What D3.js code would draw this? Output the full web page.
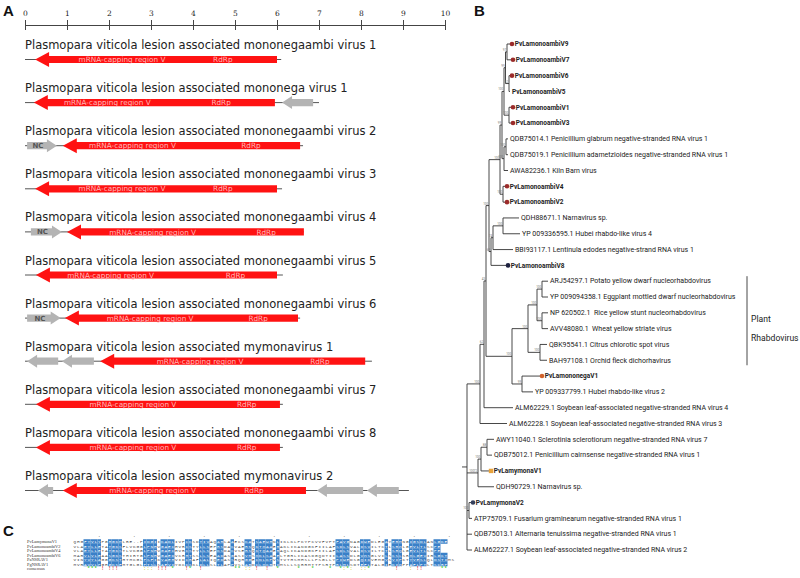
<!DOCTYPE html>
<html><head><meta charset="utf-8">
<script src="https://cdn.jsdelivr.net/npm/d3@7"></script>
<style>body{margin:0;background:#fff;} svg{display:block;}</style>
</head><body>
<svg id="chart" width="800" height="578"></svg>
<script>
// ================= Panel A data =================
const axisTicks = [0,1,2,3,4,5,6,7,8,9,10];
const genomeNames = [
  "Plasmopara viticola lesion associated mononegaambi virus 1",
  "Plasmopara viticola lesion associated mononega virus 1",
  "Plasmopara viticola lesion associated mononegaambi virus 2",
  "Plasmopara viticola lesion associated mononegaambi virus 3",
  "Plasmopara viticola lesion associated mononegaambi virus 4",
  "Plasmopara viticola lesion associated mononegaambi virus 5",
  "Plasmopara viticola lesion associated mononegaambi virus 6",
  "Plasmopara viticola lesion associated mymonavirus 1",
  "Plasmopara viticola lesion associated mononegaambi virus 7",
  "Plasmopara viticola lesion associated mononegaambi virus 8",
  "Plasmopara viticola lesion associated mymonavirus 2"
];
const genomeLength = [6.10, 7.00, 6.62, 6.12, 6.64, 6.14, 6.55, 8.26, 6.14, 6.14, 9.14];
const rdrpStart    = [0.24, 0.21, 0.90, 0.24, 1.00, 0.26, 0.95, 1.79, 0.26, 0.26, 0.90];
const rdrpEnd      = [6.00, 5.95, 6.55, 6.00, 6.64, 6.00, 6.50, 8.10, 6.07, 6.07, 6.69];
const capLabelPos  = [2.31, 1.96, 2.56, 2.31, 3.04, 2.04, 2.98, 4.17, 2.57, 2.57, 3.04];
const rdrpLabelPos = [4.71, 4.67, 5.38, 4.71, 5.74, 5.01, 5.55, 7.02, 5.28, 5.28, 5.45];
// [row, from, to, direction, label]
const grayOrfs = [
  [1, 6.12, 6.86, "left", ""],
  [2, 0.05, 0.76, "right", "NC"],
  [4, 0.14, 0.88, "right", "NC"],
  [6, 0.05, 0.85, "right", "NC"],
  [7, 0.05, 0.79, "left", ""],
  [7, 0.88, 1.64, "left", ""],
  [10, 0.31, 0.67, "left", ""],
  [10, 6.95, 8.05, "left", ""],
  [10, 8.14, 8.90, "left", ""]
];

// ================= Panel B data =================
const leafLabels = [
  "PvLamonoambiV9","PvLamonoambiV7","PvLamonoambiV6","PvLamonoambiV5","PvLamonoambiV1","PvLamonoambiV3",
  "QDB75014.1 Penicillium glabrum negative-stranded RNA virus 1",
  "QDB75019.1 Penicillium adametzioides negative-stranded RNA virus 1",
  "AWA82236.1 Kiln Barn virus",
  "PvLamonoambiV4","PvLamonoambiV2",
  "QDH88671.1 Narnavirus sp.",
  "YP 009336595.1 Hubei rhabdo-like virus 4",
  "BBI93117.1 Lentinula edodes negative-strand RNA virus 1",
  "PvLamonoambiV8",
  "ARJ54297.1 Potato yellow dwarf nucleorhabdovirus",
  "YP 009094358.1 Eggplant mottled dwarf nucleorhabdovirus",
  "NP 620502.1  Rice yellow stunt nucleorhabdovirus",
  "AVV48080.1  Wheat yellow striate virus",
  "QBK95541.1 Citrus chlorotic spot virus",
  "BAH97108.1 Orchid fleck dichorhavirus",
  "PvLamononegaV1",
  "YP 009337799.1 Hubei rhabdo-like virus 2",
  "ALM62229.1 Soybean leaf-associated negative-stranded RNA virus 4",
  "ALM62228.1 Soybean leaf-associated negative-stranded RNA virus 3",
  "AWY11040.1 Sclerotinia sclerotiorum negative-stranded RNA virus 7",
  "QDB75012.1 Penicillium cairnsense negative-stranded RNA virus 1",
  "PvLamymonaV1",
  "QDH90729.1 Narnavirus sp.",
  "PvLamymonaV2",
  "ATP75709.1 Fusarium graminearum negative-stranded RNA virus 1",
  "QDB75013.1 Alternaria tenuissima negative-stranded RNA virus 1",
  "ALM62227.1 Soybean leaf-associated negative-stranded RNA virus 2"
];
// leaf index -> [shape, colour]
const leafMarkers = {
  0:["circle","#9b2b2b"],1:["circle","#9b2b2b"],2:["circle","#9b2b2b"],4:["circle","#9b2b2b"],5:["circle","#9b2b2b"],
  9:["circle","#9b2b2b"],10:["circle","#9b2b2b"],14:["circle","#1d2140"],21:["circle","#d0622c"],
  27:["square","#e8a33c"],29:["circle","#34405e"]
};
// Newick tree (leaf names are indices into leafLabels; internal labels are bootstrap values)
const cladeV  = "((((0:0.04,1:0.05)97:0.015,(2:0.02,3:0.01)52:0.035)99:0.015,(4:0.03,5:0.03)100:0.05)100:0.02,((6:0.02,7:0.02)100:0.02,8:0.04)100:0.02)99";
const cladeP1 = "(" + cladeV + ":0.02,(9:0.03,10:0.03)100:0.03)100";
const cladeP2 = "(((11:0.16,12:0.17)100:0.10,13:0.20)74:0.02,14:0.16)69";
const cladeP  = "(" + cladeP1 + ":0.11," + cladeP2 + ":0.02)100";
const cladeQ  = "((((15:0.06,16:0.06)100:0.05,(17:0.06,18:0.06)100:0.05)100:0.09,(19:0.07,20:0.07)100:0.12)100:0.16,(21:0.19,22:0.11)99:0.10)100";
const cladeU1 = "(((" + cladeP + ":0.03," + cladeQ + ":0.26)43:0.02,23:0.29)62:0.04,24:0.27)100";
const cladeU2 = "((((25:0.07,26:0.05)88:0.06,27:0.09)100:0.03,28:0.16)72";
const newick  = "((" + cladeU1 + ":0.13," + cladeU2 + ":0.03)100:0.08,(29:0.03,30:0.03)100:0.02,31:0.05,32:0.05);";
const cladeBrackets = [["Plant","Rhabdovirus", 15, 20]];

// ================= Panel C data =================
const alignNames = ["PvLamymonaV1","PvLamonoambiV2","PvLamonoambiV4","PvLamonoambiV6","PaNSRAV1","PgNSRAV1","consensus"];
const alignSeqs = [
  "QHGFYVLYPGHGKMLRE..PIDGIIKADLIVPCKSDTIVAQARLAAECSKATSAEWHNLIKLKLPKYPCVVFVPTFAVGNAGDWEDLEGAYERMNGIGSDLANLGKE",
  "VLAEYLLETATGKSFLVKGGLPNHVGAECHVRCSTYLLSEPRSDACVAERSQKTQAAERAKLIKANDGKFIILAFSDLSVALDSVILTCTLSRQLGEVLTLSCPE",
  "VLAEYLLETATGKSTLVKGGLPNHVGAECHVRCSTYLLSEPKSDACVSERSQKTQAAERAQLIKANDGKFIILAFSDLSVALDSVILTCTLSRQLGEVLTLSCPE",
  "MARVLVLEAASGKSTHIRTGLPNHVGAEDVCRHTSSLLSEAADASGASIVMSQKLSAAELTGRLIKASDGQDTIILASSDLGVQSGLVILSCSLSRQLGEVIRLGCT",
  "VINYVYLAGGGKSTHTMCGLPSFIKVAEHVIDCRAFLALIQEDASSRQHGGECNLKPVSTVTHSMHSLLPSGLLYPIWEDSGQIKVEMGVSVIPCTYVESLQLDSTIMS",
  "MVRAVVLPGHGKSFMTGLGLPTSLSAEVIYDCKSKLDLLSLTLAPPVSLARDCLQCRTIMSLLSCRRMTTPSRTPRLMLSDTEFLTALGIEKIQPPAFLPTLTSCRP"
];
const conservedCols = [3,4,5,6,7,10,11,12,13,20,21,22,23,25,26,27,28,32,33,36,37,38,41,42,45,49,50,52,53,54,55,56,58,75,76,77,78,82,83,84,89,91,92,93,96,97,98,99,100,103,104,105,106];
const consensusMarks = [[4,"*"],[5,"*"],[6,"*"],[8,"!"],[10,"!"],[11,"!"],[12,"!"],[20,":"],[21,":"],[22,":"],[24,"!"],[25,"!"],[26,"!"],[28,"*"],[32,"!"],[33,"*"],[36,"!"],[46,"*"],[47,"*"],[49,":"],[50,":"],[52,"!"],[55,"!"],[58,"*"],[64,"*"],[68,"*"],[73,"*"],[76,"*"],[77,":"],[78,"*"],[79,":"],[82,":"],[83,":"],[84,"*"],[92,"!"],[96,":"],[98,"!"],[99,"!"],[105,"*"],[106,"*"]];
const markColors = {"*":"#33cc33", ":":"#c8c820", "!":"#dd3333"};

// ================= Drawing =================
const svg = d3.select("#chart");
svg.append("rect").attr("width",800).attr("height",578).attr("fill","#fff");

// panel letters
[["A",3,16],["B",474,16],["C",3,536]].forEach(([t,px,py]) =>
  svg.append("text").attr("x",px).attr("y",py).text(t)
    .attr("font-family","Liberation Sans, Arial, sans-serif").attr("font-weight","bold").attr("font-size",15).attr("fill","#111"));

// ---- Panel A ----
const x = d3.scaleLinear().domain([0,10]).range([25,445]);
const rowY = d3.scaleLinear().domain([0,10]).range([45,476]);
const gA = svg.append("g");
const axisG = gA.append("g").attr("transform","translate(0,25)")
  .call(d3.axisTop(x).tickValues(axisTicks).tickSize(5).tickSizeOuter(0).tickPadding(4).tickFormat(d3.format("d")));
axisG.select(".domain").attr("stroke","#444");
axisG.selectAll(".tick line").attr("y1",5).attr("y2",-5).attr("stroke","#444");
axisG.selectAll(".tick text").attr("font-family","DejaVu Serif, serif").attr("font-size",7.5).attr("fill","#222");

function arrowPath(x0, x1, y, dir, head, H, b) {
  if (dir === "left")
    return `M${x0},${y}L${x0+head},${y-H}L${x0+head},${y-b}L${x1},${y-b}L${x1},${y+b}L${x0+head},${y+b}L${x0+head},${y+H}Z`;
  return `M${x1},${y}L${x1-head},${y-H}L${x1-head},${y-b}L${x0},${y-b}L${x0},${y+b}L${x1-head},${y+b}L${x1-head},${y+H}Z`;
}

genomeNames.forEach((name, i) => {
  const ty = rowY(i), ay = ty + 14.5;
  gA.append("text").attr("x",x(0)).attr("y",ty+4).text(name)
    .attr("font-family","DejaVu Sans, Verdana, sans-serif").attr("font-size",11.5).attr("fill","#222");
  gA.append("line").attr("x1",x(0)).attr("x2",x(genomeLength[i])).attr("y1",ay).attr("y2",ay)
    .attr("stroke","#555").attr("stroke-width",1);
  gA.append("path").attr("d",arrowPath(x(rdrpStart[i]), x(rdrpEnd[i]), ay, "left", 14, 7.5, 3.6)).attr("fill","#ff1212");
  gA.append("text").attr("x",x(capLabelPos[i])).attr("y",ay+2.6).attr("text-anchor","middle").text("mRNA-capping region V")
    .attr("font-family","DejaVu Sans, Verdana, sans-serif").attr("font-size",7.3).attr("fill","#ffb8b8");
  gA.append("text").attr("x",x(rdrpLabelPos[i])).attr("y",ay+2.6).attr("text-anchor","middle").text("RdRp")
    .attr("font-family","DejaVu Sans, Verdana, sans-serif").attr("font-size",7.3).attr("fill","#ffb8b8");
});
grayOrfs.forEach(([r, a, b, dir, lab]) => {
  const ay = rowY(r) + 14.5, x0 = x(a), x1 = x(b);
  gA.append("path").attr("d",arrowPath(x0, x1, ay, dir, 10, 6.5, 3.6)).attr("fill","#b4b4b4");
  if (lab) gA.append("text").attr("x",(x0 + x1 - 10)/2 + 1).attr("y",ay+2.5).attr("text-anchor","middle").text(lab)
    .attr("font-family","DejaVu Sans, Verdana, sans-serif").attr("font-weight","bold").attr("font-size",7).attr("fill","#555");
});

// ---- Panel B ----
function parseNewick(s) {
  let i = 0;
  function node() {
    const n = {children: []};
    if (s[i] === "(") {
      i++;
      while (true) { n.children.push(node()); if (s[i] === ",") { i++; continue; } break; }
      i++;
    }
    let label = "";
    while (i < s.length && !",):;".includes(s[i])) label += s[i++];
    let bl = 0;
    if (s[i] === ":") { i++; let t = ""; while (i < s.length && !",);".includes(s[i])) t += s[i++]; bl = +t; }
    n.name = label; n.length = bl;
    if (!n.children.length) delete n.children;
    return n;
  }
  return node();
}
const root = d3.hierarchy(parseNewick(newick));
root.eachBefore(n => n.dist = n.parent ? n.parent.dist + n.data.length : 0);
const tx = d3.scaleLinear().domain([0,1]).range([467,567]);
const ty = d3.scaleLinear().domain([0,leafLabels.length-1]).range([44,550]);
root.leaves().forEach((l,i) => l.y = ty(i));
root.eachAfter(n => { if (n.children) n.y = (n.children[0].y + n.children[n.children.length-1].y)/2; });

const gB = svg.append("g").attr("stroke","#333").attr("stroke-width",0.9);
root.descendants().forEach(n => {
  if (n.parent) gB.append("line").attr("x1",tx(n.parent.dist)).attr("x2",tx(n.dist)).attr("y1",n.y).attr("y2",n.y);
  if (n.children) gB.append("line").attr("x1",tx(n.dist)).attr("x2",tx(n.dist))
    .attr("y1",n.children[0].y).attr("y2",n.children[n.children.length-1].y);
});
gB.append("line").attr("x1",tx(0)-5).attr("x2",tx(0)).attr("y1",root.y).attr("y2",root.y);

const gBt = svg.append("g");
root.descendants().filter(n => n.children && n.data.name).forEach(n => {
  gBt.append("text").attr("x",tx(n.dist)-0.8).attr("y",n.y-1).attr("text-anchor","end").text(n.data.name)
    .attr("font-family","Roboto, sans-serif").attr("font-size",3).attr("fill","#777");
});
root.leaves().forEach(l => {
  const idx = +l.data.name, lx = tx(l.dist), mk = leafMarkers[idx];
  if (mk) {
    if (mk[0] === "circle") gBt.append("circle").attr("cx",lx+1).attr("cy",l.y).attr("r",2.3).attr("fill",mk[1]);
    else gBt.append("rect").attr("x",lx-1.2).attr("y",l.y-2.2).attr("width",4.4).attr("height",4.4).attr("fill",mk[1]);
  }
  const bold = leafLabels[idx].startsWith("Pv");
  gBt.append("text").attr("x",lx + (mk ? 3.8 : 2)).attr("y",l.y+2.3).text(leafLabels[idx])
    .style("white-space","pre")
    .attr("font-family","Roboto, sans-serif").attr("font-size",bold ? 6.5 : 7)
    .attr("font-weight",bold ? "bold" : "normal").attr("fill","#222");
});
cladeBrackets.forEach(([t1,t2,a,b]) => {
  gBt.append("line").attr("x1",747).attr("x2",747).attr("y1",ty(a)-5).attr("y2",ty(b)+5).attr("stroke","#333").attr("stroke-width",0.9);
  gBt.append("text").attr("x",751).attr("y",(ty(a)+ty(b))/2 + 1.5).text(t1)
    .attr("font-family","Roboto, sans-serif").attr("font-size",8.6).attr("fill","#222");
  gBt.append("text").attr("x",751).attr("y",(ty(a)+ty(b))/2 + 20).text(t2)
    .attr("font-family","Roboto, sans-serif").attr("font-size",8.6).attr("fill","#222");
});

// ---- Panel C ----
const cw = 3.5, rh = 4.5;
const colX = d3.scaleLinear().domain([0,1]).range([73, 73+cw]);
const alY = d3.scaleLinear().domain([0,1]).range([541.5, 541.5+rh]);
const gC = svg.append("g");
for (let c = 7; c < 108; c += 10)
  gC.append("text").attr("x",colX(c)+cw/2).attr("y",538).attr("text-anchor","middle").text("·")
    .attr("font-family","Liberation Mono, monospace").attr("font-size",5).attr("fill","#555");
alignNames.forEach((nm, r) => {
  gC.append("text").attr("x",27).attr("y",alY(r)+1.5).text(nm)
    .attr("font-family","Liberation Serif, serif").attr("font-size",4.4).attr("fill","#333");
});
const cset = new Set(conservedCols);
alignSeqs.forEach((seq, r) => {
  conservedCols.forEach(c => {
    if (c < seq.length) gC.append("rect").attr("x",colX(c)).attr("y",alY(r)-rh/2).attr("width",cw).attr("height",rh).attr("fill","#3a80c8");
  });
  seq.split("").forEach((ch, c) => {
    gC.append("text").attr("x",colX(c)+cw/2).attr("y",alY(r)+1.5).attr("text-anchor","middle").text(ch)
      .attr("font-family","Liberation Mono, monospace").attr("font-size",4.4).attr("fill",cset.has(c) ? "#fff" : "#444");
  });
});
consensusMarks.forEach(([c, m]) => {
  gC.append("text").attr("x",colX(c)+cw/2).attr("y",alY(6)+1.8).attr("text-anchor","middle").text(m)
    .attr("font-family","Liberation Mono, monospace").attr("font-weight","bold").attr("font-size",4.6).attr("fill",markColors[m]);
});
</script>
</body></html>
